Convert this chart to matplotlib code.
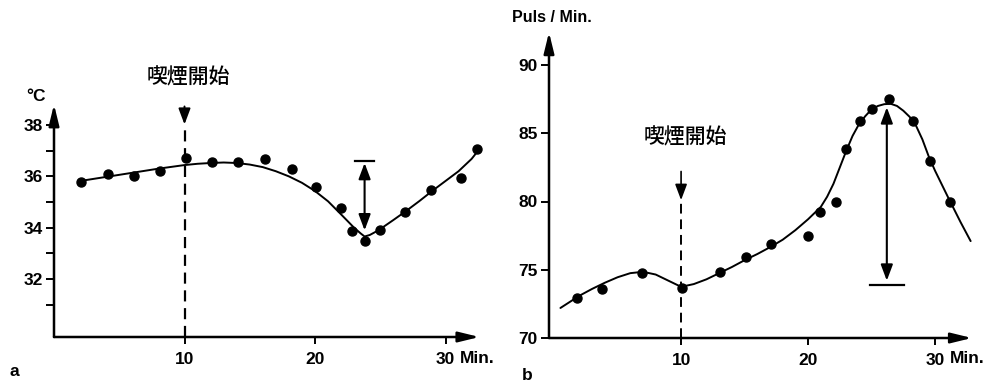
import matplotlib
matplotlib.use("Agg")
import matplotlib.pyplot as plt

# ---------------- data ----------------
# panel a : body temperature (°C) vs minutes
temp_min = [2.1, 4.1, 6.1, 8.1, 10.1, 12.1, 14.1, 16.2, 18.2, 20.1, 22.0, 22.8, 23.8, 25.0, 26.9, 28.9, 31.2, 32.4]
temp_val = [35.8, 36.08, 36.0, 36.2, 36.7, 36.55, 36.55, 36.66, 36.3, 35.57, 34.75, 33.87, 33.5, 33.9, 34.63, 35.46, 35.92, 37.05]
temp_curve_min = [2.0, 3, 4, 5, 6, 7, 8, 9, 10, 11, 12, 13, 14, 15, 16, 17, 18, 19, 20, 21, 22, 23, 23.5, 23.8, 24.2, 24.6, 25, 26, 27, 28, 29, 30, 31, 32, 32.5]
temp_curve_val = [35.82, 35.9, 35.98, 36.06, 36.14, 36.22, 36.3, 36.37, 36.44, 36.49, 36.52, 36.54, 36.52, 36.46, 36.36, 36.2, 36.0, 35.75, 35.43, 35.03, 34.52, 34.0, 33.78, 33.66, 33.72, 33.83, 33.95, 34.3, 34.66, 35.04, 35.44, 35.82, 36.2, 36.68, 37.0]

# panel b : pulse per minute vs minutes
puls_min = [1.8, 3.8, 6.95, 10.05, 13.1, 15.1, 17.06, 19.98, 20.97, 22.18, 22.97, 24.1, 25.06, 26.35, 28.3, 29.6, 31.2]
puls_val = [72.95, 73.6, 74.75, 73.65, 74.85, 75.9, 76.9, 77.45, 79.25, 79.95, 83.85, 85.9, 86.8, 87.5, 85.9, 83.0, 79.95]
puls_curve_min = [0.5, 1, 2, 3, 4, 5, 6, 7, 8, 9, 10, 11, 12, 13, 14, 15, 16, 17, 18, 19, 20, 21, 21.5, 22, 22.5, 23, 23.5, 24, 24.5, 25, 25.5, 26, 26.5, 27, 27.5, 28, 28.5, 29, 29.5, 30, 31, 32, 32.8]
puls_curve_val = [72.2, 72.5, 73.1, 73.6, 74.05, 74.45, 74.75, 74.85, 74.65, 74.2, 73.75, 73.95, 74.3, 74.75, 75.2, 75.7, 76.15, 76.65, 77.2, 77.9, 78.7, 79.6, 80.35, 81.3, 82.5, 83.7, 84.8, 85.65, 86.25, 86.75, 87.0, 87.13, 87.16, 87.0, 86.65, 86.2, 85.55, 84.55, 83.3, 82.25, 80.35, 78.5, 77.1]

temp_yticks = [32, 34, 36, 38]
temp_yminor = [31, 33, 35, 37]
puls_yticks = [70, 75, 80, 85, 90]
x_ticks = [10, 20, 30]
x_ticklabels = ["10", "20", "30"]

smoke_start = 10
label_smoke = "喫煙開始"

# drop annotations (x, low, high, bar half-width)
temp_drop = (23.8, 33.9, 36.58, 0.7)
puls_drop = (26.2, 74.05, 87.05, 1.35)

# ---------------- figure ----------------
W, H = 989, 381
fig = plt.figure(figsize=(W / 100, H / 100), dpi=100)

LAT = ["Liberation Sans", "DejaVu Sans"]
tick_font = dict(family=LAT, size=12.5, weight="bold")
cjk_font = dict(family=["Noto Sans CJK JP", "DejaVu Sans"], size=15, weight="medium")


def px_axes(x0, y_bottom_px, wpx, hpx):
    return fig.add_axes([x0 / W, (H - y_bottom_px) / H, wpx / W, hpx / H])


# ---- panel a ----
xa0, xa1 = 0, 33
ya0, ya1 = 29.75, 39.5
axa = px_axes(54, 337, (xa1 - xa0) * 13.05, (ya1 - ya0) * 25.7)
axa.set_xlim(xa0, xa1)
axa.set_ylim(ya0, ya1)

# ---- panel b ----
xb0, xb1 = -0.4, 33.5
yb0, yb1 = 70, 93
axb = px_axes(549, 338, (xb1 - xb0) * 12.7, (yb1 - yb0) * 13.65)
axb.set_xlim(xb0, xb1)
axb.set_ylim(yb0, yb1)

for ax in (axa, axb):
    for s in ax.spines.values():
        s.set_visible(False)
    ax.set_facecolor("none")
    ax.tick_params(axis="both", which="both", direction="out", width=1.4, color="black")
    ax.tick_params(axis="y", which="major", length=6, pad=2)
    ax.tick_params(axis="x", which="major", length=5, pad=6)
    ax.set_xticks(x_ticks)
    ax.set_xticklabels(x_ticklabels, fontfamily=LAT, fontsize=12.5, fontweight="bold")

arrow_kw = dict(arrowstyle="-|>,head_length=0.9,head_width=0.22", color="black",
                lw=1.8, shrinkA=0, shrinkB=0, mutation_scale=14)

# axes with arrows
axa.annotate("", xy=(0, 38.8), xytext=(0, ya0), arrowprops=arrow_kw, annotation_clip=False)
axa.annotate("", xy=(32.6, ya0), xytext=(0, ya0), arrowprops=arrow_kw, annotation_clip=False)
axb.annotate("", xy=(xb0, 92.4), xytext=(xb0, yb0), arrowprops=arrow_kw, annotation_clip=False)
axb.annotate("", xy=(32.9, yb0), xytext=(xb0, yb0), arrowprops=arrow_kw, annotation_clip=False)

axa.set_yticks(temp_yticks)
axa.set_yticks(temp_yminor, minor=True)
axa.tick_params(axis="y", which="minor", length=6, width=1.4)
axa.set_yticklabels([str(v) for v in temp_yticks], fontfamily=LAT, fontsize=12.5, fontweight="bold")
axb.set_yticks(puls_yticks)
axb.set_yticklabels([str(v) for v in puls_yticks], fontfamily=LAT, fontsize=12.5, fontweight="bold")

# curves and points
axa.plot(temp_curve_min, temp_curve_val, color="black", lw=1.4, solid_capstyle="round")
axa.plot(temp_min, temp_val, "o", color="black", ms=6.5)
axb.plot(puls_curve_min, puls_curve_val, color="black", lw=1.4, solid_capstyle="round")
axb.plot(puls_min, puls_val, "o", color="black", ms=6.5)

# smoking start markers
axa.plot([smoke_start, smoke_start], [ya0, 38.05], color="black", lw=1.6, dashes=(5, 3))
axa.annotate("", xy=(smoke_start, 38.02), xytext=(smoke_start, 38.72),
             arrowprops=dict(arrowstyle="-|>,head_length=0.8,head_width=0.3", color="black",
                             lw=1.4, shrinkA=0, shrinkB=0, mutation_scale=12))
axa.text(10.27, 39.85, label_smoke, ha="center", va="center", **cjk_font)

axb.plot([smoke_start, smoke_start], [yb0, 80.1], color="black", lw=1.4, dashes=(5, 3))
axb.annotate("", xy=(smoke_start, 80.1), xytext=(smoke_start, 82.2),
             arrowprops=dict(arrowstyle="-|>,head_length=0.8,head_width=0.3", color="black",
                             lw=1.2, shrinkA=0, shrinkB=0, mutation_scale=12))
axb.text(10.3, 84.7, label_smoke, ha="center", va="center", **cjk_font)

# drop double arrows
dbl_kw = dict(arrowstyle="<|-|>,head_length=0.8,head_width=0.3", color="black",
              lw=1.5, shrinkA=0, shrinkB=0, mutation_scale=12)
x, lo, hi, hw = temp_drop
axa.annotate("", xy=(x, lo), xytext=(x, hi - 0.06), arrowprops=dbl_kw)
axa.plot([x - hw, x + hw], [hi, hi], color="black", lw=1.6)

x, lo, hi, hw = puls_drop
axb.annotate("", xy=(x, lo + 0.15), xytext=(x, hi - 0.15), arrowprops=dbl_kw)
axb.plot([x - hw, x + hw], [lo - 0.15, lo - 0.15], color="black", lw=1.6)

# units
axa.text(-1.4, 39.1, "°C", ha="center", va="center", clip_on=False, **tick_font)
axb.text(-3.35, 93.5, "Puls / Min.", ha="left", va="center", clip_on=False,
         family=LAT, size=11.5, weight="bold")
axa.text(31.1, ya0 - 0.82, "Min.", ha="left", va="center", clip_on=False, **tick_font)
axb.text(31.2, yb0 - 1.5, "Min.", ha="left", va="center", clip_on=False, **tick_font)

# panel letters
fig.text(10 / W, 1 - 371 / H, "a", ha="left", va="center", **tick_font)
fig.text(522 / W, 1 - 375 / H, "b", ha="left", va="center", **tick_font)

fig.savefig("out.png", dpi=100)
